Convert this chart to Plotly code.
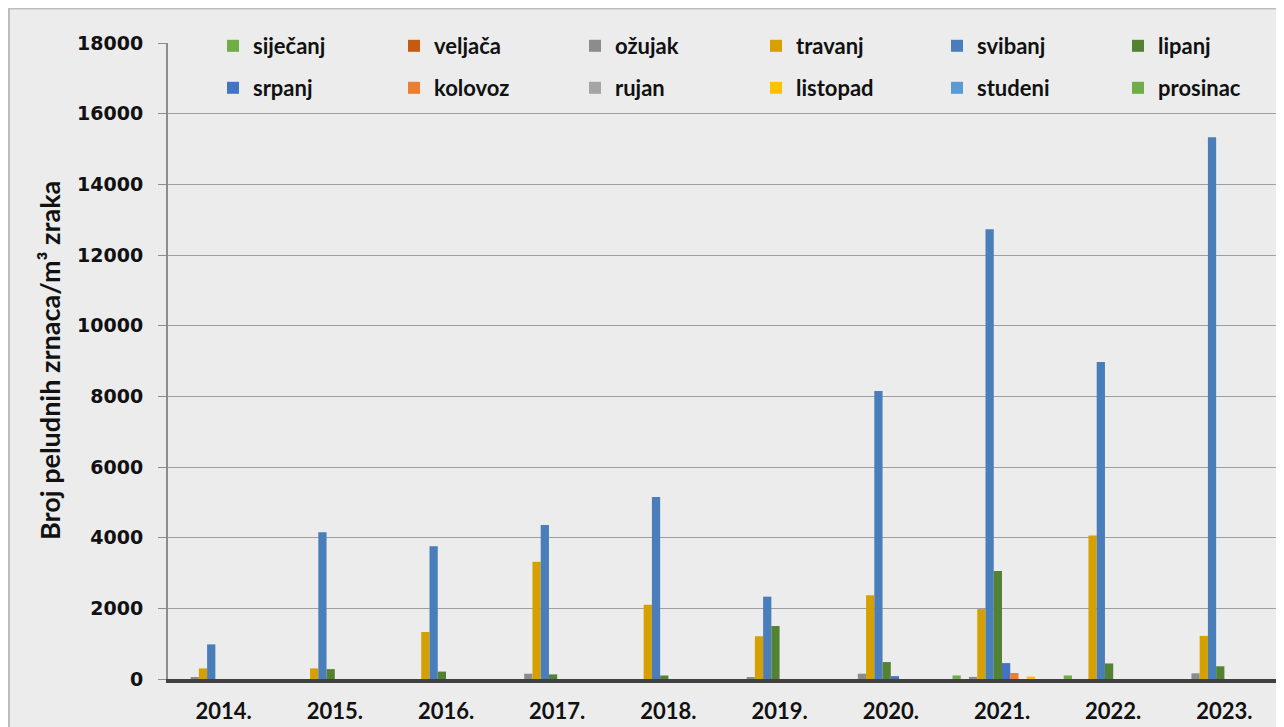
import plotly.graph_objects as go

years = ["2014.", "2015.", "2016.", "2017.", "2018.", "2019.", "2020.", "2021.", "2022.", "2023."]

months = ["siječanj", "veljača", "ožujak", "travanj", "svibanj", "lipanj",
          "srpanj", "kolovoz", "rujan", "listopad", "studeni", "prosinac"]

sijecanj = [0, 0, 0, 0, 0, 0, 0, 100, 100, 0]
veljaca = [0, 0, 0, 0, 0, 0, 0, 0, 0, 0]
ozujak = [40, 0, 0, 150, 0, 30, 150, 60, 0, 160]
travanj = [300, 300, 1330, 3320, 2100, 1210, 2370, 1980, 4060, 1220]
svibanj = [980, 4150, 3760, 4360, 5150, 2330, 8150, 12730, 8970, 15330]
lipanj = [0, 280, 210, 130, 100, 1500, 480, 3060, 440, 360]
srpanj = [0, 0, 0, 0, 0, 0, 80, 450, 0, 0]
kolovoz = [0, 0, 0, 0, 0, 0, 0, 170, 0, 0]
rujan = [0, 0, 0, 0, 0, 0, 0, 0, 0, 0]
listopad = [0, 0, 0, 0, 0, 0, 0, 70, 0, 0]
studeni = [0, 0, 0, 0, 0, 0, 0, 0, 0, 0]
prosinac = [0, 0, 0, 0, 0, 0, 0, 0, 0, 0]

series = [sijecanj, veljaca, ozujak, travanj, svibanj, lipanj,
          srpanj, kolovoz, rujan, listopad, studeni, prosinac]

colors = ["#70AD47", "#C55A11", "#8C8C8C", "#D6A000", "#4A7EBA", "#548235",
          "#4472C4", "#ED7D31", "#A5A5A5", "#FFC000", "#5B9BD5", "#70AD47"]

y_ticks = [0, 2000, 4000, 6000, 8000, 10000, 12000, 14000, 16000, 18000]

fig = go.Figure()
for i, (name, vals, col) in enumerate(zip(months, series, colors)):
    fig.add_trace(go.Bar(x=years, y=vals, name=name, marker_color=col,
                         marker_line_width=0,
                         legend="legend" if i < 6 else "legend2"))

bg = "#ECECEC"
leg_font = dict(family="Lato", size=22, color="#111111", weight="bold")
common_leg = dict(orientation="h", xref="container", yref="container",
                  xanchor="left", yanchor="top",
                  entrywidth=136, entrywidthmode="pixels",
                  itemwidth=30, font=leg_font,
                  bgcolor="rgba(0,0,0,0)", traceorder="normal")

fig.update_layout(
    width=1284, height=727,
    paper_bgcolor=bg, plot_bgcolor=bg,
    barmode="group", bargap=0.11, bargroupgap=0,
    margin=dict(l=160, r=12, t=35, b=56, autoexpand=False),
    legend=dict(x=205 / 1284, y=1 - 17 / 727, **common_leg),
    legend2=dict(x=205 / 1284, y=1 - 59 / 727, **common_leg),
    showlegend=True,
)

fig.update_yaxes(range=[0, 18000], tickvals=y_ticks, tickformat="d",
                 showgrid=True, gridcolor="#9E9E9E", gridwidth=1,
                 showline=True, linecolor="#8C8C8C", linewidth=2,
                 ticks="outside", ticklen=8, tickcolor="#8C8C8C",
                 ticklabelstandoff=11,
                 zeroline=False,
                 tickfont=dict(family="DejaVu Sans", size=19, color="#111111", weight="bold"))

fig.update_xaxes(showline=True, linecolor="#404040", linewidth=4,
                 ticks="", showgrid=False, ticklabelstandoff=10,
                 tickfont=dict(family="Lato", size=22, color="#111111", weight="bold"))

fig.add_annotation(text="Broj peludnih zrnaca/m³ zraka", xref="paper", yref="paper",
                   x=(49 - 168) / 1112, y=0.5, textangle=-90, showarrow=False,
                   xanchor="center", yanchor="middle",
                   font=dict(family="Lato", size=27, color="#111111", weight="bold"))

fig.add_shape(type="rect", xref="paper", yref="paper",
              x0=(1 - 160) / 1112, x1=(1290 - 160) / 1112,
              y0=-0.2, y1=(671 - 0.5) / 636,
              line=dict(color="#BDBDBD", width=2), fillcolor="rgba(0,0,0,0)",
              layer="below")

fig.write_html("out.html")
